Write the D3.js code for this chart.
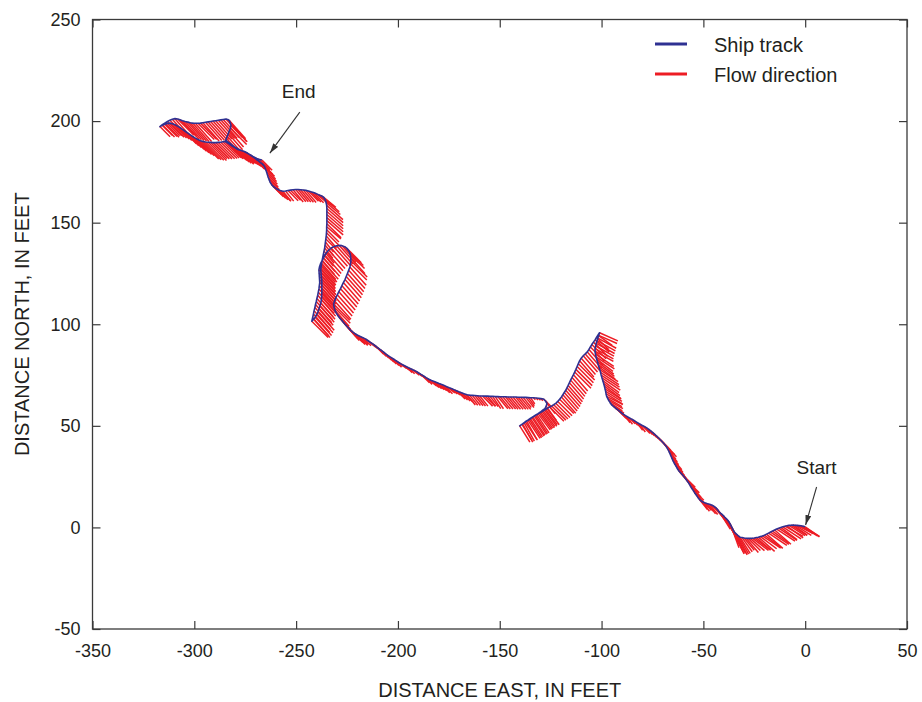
<!DOCTYPE html>
<html>
<head>
<meta charset="utf-8">
<script src="https://cdn.jsdelivr.net/npm/d3@7"></script>
<style>
  html, body { margin: 0; padding: 0; background: #fff; }
  svg { display: block; }
  text { font-family: "Liberation Sans", Arial, sans-serif; fill: #231f20; }
</style>
</head>
<body>
<svg id="chart" width="922" height="702"></svg>
<script>
// Axis ticks (feet)
const xTicks = [-350, -300, -250, -200, -150, -100, -50, 0, 50];
const yTicks = [-50, 0, 50, 100, 150, 200, 250];

// Legend entries
const legendItems = [
  { label: "Ship track", color: "#2e3192" },
  { label: "Flow direction", color: "#ed1c24" }
];

// Annotations: text position, arrow tail and arrow tip (feet east, feet north)
const annotations = [
  { text: "End",   tx: -248.7, ty: 211.5, from: [-248.2, 204.4], to: [-262.9, 184.2] },
  { text: "Start", tx: 5.6,    ty: 26.5,  from: [5.6, 19.9],     to: [0.2, 1.2] }
];

// Ensembles along the ship track, from start to end:
// [east, north, flow east, flow north] in feet
const ensembles = [
  // start, heading west
  [0.0,0.3,7,-5],[-1,0.6,8,-5],[-2,0.8,8,-5],[-3,0.9,7,-4],[-4,1.0,8,-4],[-5,1.1,8,-5],
  [-6,1.2,7,-5],[-7,1.1,8,-5],[-8,1.0,8,-5],[-9,0.8,8,-6],[-10,0.6,9,-5],[-11,0.3,9,-6],
  [-12,0.0,8,-6],[-13,-0.4,9,-6],[-14,-0.8,9,-6],[-15,-1.3,8,-7],[-16,-1.8,8,-6],[-17,-2.3,9,-6],
  [-18,-2.8,9,-6],[-19,-3.3,8,-7],[-20,-3.8,8,-6],[-21,-4.2,9,-6],[-22,-4.5,8,-6],[-23,-4.8,8,-7],
  [-24,-5.0,7,-6],[-25,-5.2,8,-6],[-26,-5.3,8,-6],[-27,-5.4,7,-6],[-28,-5.4,6,-6],[-29,-5.3,6,-7],
  [-30,-5.2,5,-6],[-31,-5,5,-7],
  // turn north
  [-32,-4.8,5,-8],[-32.8,-4.2,5,-9],[-33.5,-3.5,5,-10],[-34.3,-2.8,5,-10],[-35,-2,5,-11],[-35.5,-1,5,-11],
  [-36,0,5,-11],[-36.5,1,4,-11],[-37,2,5,-11],[-37.5,2.8,5,-11],[-38,3.5,6,-11],[-38.8,4.3,6,-11],
  [-39.5,5,6,-10],[-40.2,5.8,6,-10],[-41,6.5,6,-9],[-41.8,7.2,5,-8],[-42.5,8,5,-7],[-43.2,9,5,-7],
  // northwest run
  [-44,9.8,5,-6],[-45,10.5,5,-6],[-46,11,5,-5],[-47,11.4,4,-5],[-48,11.7,4,-5],[-49,12,4,-4],
  [-50,12.4,4,-4],[-51,13,4,-5],[-52,13.8,4,-5],[-52.8,14.9,5,-5],[-53.5,16,5,-5],[-54.3,17.1,5,-6],
  [-55,18.2,5,-6],[-55.8,19.4,6,-6],[-56.5,20.6,5,-6],[-57.2,21.8,6,-7],[-58,23,6,-6],[-59,24.3,6,-7],
  [-60,25.5,6,-7],[-61,26.7,7,-7],[-62,27.8,6,-7],[-62.8,29,6,-7],[-63.5,30.3,5,-6],[-64.3,31.6,5,-6],
  [-65,33,5,-6],[-65.6,34.4,5,-6],[-66.2,35.8,4,-5],[-66.8,37.2,4,-5],[-67.5,38.6,4,-5],[-68.2,39.8,5,-5],
  [-69,40.8,5,-5],[-70,41.9,5,-6],[-71,43,5,-5],[-72,44,5,-5],[-73,45,4,-4],[-74,45.9,4,-4],
  [-75,46.8,4,-4],[-76,47.6,4,-4],[-77,48.4,4,-4],[-78,49.1,4,-4],
  [-79,49.7,4,-4],[-80.2,50.3,4,-4],[-81.5,51,3,-4],[-82.8,51.8,3,-4],[-84,52.6,3,-3],[-85.2,53.3,3,-3],
  [-86.5,54,3,-3],[-87.8,54.8,3,-4],[-89,55.5,3,-4],[-90,56.2,4,-4],[-91,57,4,-4],[-92,57.8,4,-4],
  [-93,58.6,5,-4],[-94,59.4,5,-4],[-95,60.3,6,-4],[-95.8,61.4,6,-4],[-96.5,62.5,7,-4],[-97,63.5,7,-4],
  [-97.5,64.5,8,-4],
  // up to the peak
  [-97.8,65.8,8,-5],[-98,67,8,-5],[-98.3,68.2,8,-5],[-98.6,69.5,8,-6],[-99,70.9,8,-6],[-99.4,72.3,8,-6],
  [-99.8,73.6,9,-6],[-100.2,75,9,-6],[-100.5,76.3,9,-6],[-100.9,77.7,9,-6],[-101.3,79,8,-6],[-101.7,80.3,8,-6],
  [-102,81.5,8,-6],[-102.4,82.8,8,-6],[-102.7,84,9,-6],[-103,85.3,9,-6],[-103.2,86.7,9,-5],[-103.2,88,9,-5],
  [-102.9,89.3,9,-5],[-102.6,90.6,9,-5],[-102.2,91.9,9,-5],[-101.8,93.2,9,-5],[-101.4,94.5,9,-4],[-101,95.8,9,-4],
  // down the west side of the peak
  [-101.8,94.6,7,-5],[-102.5,93.5,6,-6],[-103.2,92.3,7,-6],[-104,91.2,7,-7],[-104.8,90,7,-7],[-105.5,88.8,7,-7],
  [-106.2,87.6,7,-8],[-107,86.4,7,-8],[-108,85.4,7,-8],[-109,84.5,7,-8],[-110,83.3,7,-8],[-110.8,82,7,-8],
  [-111.4,80.6,8,-8],[-112,79.2,8,-8],[-112.6,77.8,8,-8],[-113.2,76.5,8,-8],[-113.8,75.2,7,-8],[-114.5,73.8,7,-8],
  [-115.2,72.5,7,-8],[-115.8,71.2,7,-8],[-116.4,69.9,7,-8],[-117,68.7,7,-8],[-117.6,67.5,7,-8],[-118.3,66.4,7,-8],
  [-119,65.3,7,-8],[-119.7,64.2,7,-8],[-120.6,63.1,7,-7],[-121.5,62,7,-7],[-122.5,61.1,7,-7],[-123.5,60.4,7,-7],
  [-124.5,59.8,7,-7],[-125.5,59.3,7,-7],[-126.8,58.5,6,-8],
  // southwest spur and back
  [-128,57.8,6,-8],[-129.2,57,6,-8],[-130.5,56.3,6,-8],[-131.8,55.5,6,-9],[-133,54.8,6,-9],[-134.2,54,6,-9],
  [-135.5,53.1,6,-9],[-136.8,52.3,5,-9],[-138,51.5,5,-9],[-139.1,50.7,5,-8],[-140.2,50,5,-8],[-138.8,51,5,-9],
  [-137.5,52,6,-9],[-136.2,52.8,6,-9],[-135,53.6,6,-9],[-133.8,54.4,6,-9],[-132.5,55.2,6,-9],[-131.2,56,6,-8],
  [-130,56.8,6,-8],[-128.9,57.7,6,-8],[-127.8,58.5,6,-8],[-127.2,59.7,5,-7],[-126.8,61,4,-5],[-127.5,62.2,3,-3],
  [-128.5,63.2,2,-2],
  // straight westward leg
  [-129.8,63.4,1,-1],[-131,63.6,1,-1],[-132.2,63.7,1,-1],[-133.5,63.8,1,-1],[-134.8,63.8,2,-3],[-136,63.9,3,-4],
  [-137.2,64,4,-5],[-138.5,64,4,-5],[-139.8,64.1,5,-6],[-141,64.1,5,-6],[-142.2,64.2,5,-6],[-143.5,64.2,5,-6],
  [-144.8,64.2,5,-6],[-146,64.2,5,-6],[-147.2,64.3,5,-6],[-148.5,64.3,5,-6],[-149.8,64.3,5,-6],[-151,64.4,5,-6],
  [-152.2,64.4,4,-6],[-153.5,64.5,4,-6],[-154.8,64.5,4,-5],[-156,64.6,4,-5],[-157.2,64.6,5,-5],[-158.5,64.7,5,-5],
  [-159.8,64.7,4,-5],[-161,64.8,4,-5],[-162.2,64.9,4,-5],[-163.5,65,4,-5],[-164.8,65.1,4,-5],[-166,65.3,4,-5],
  // long northwest diagonal
  [-167.2,65.7,4,-4],[-168.5,66.2,4,-4],[-169.8,66.7,4,-4],[-171,67.2,4,-4],[-172.2,67.7,4,-3],[-173.5,68.2,4,-3],
  [-174.8,68.7,4,-3],[-176,69.2,4,-3],[-177.2,69.8,4,-4],[-178.5,70.3,4,-4],[-179.8,70.8,5,-4],[-181,71.3,5,-4],
  [-182.2,71.8,5,-4],[-183.5,72.3,5,-4],[-184.8,72.9,5,-4],[-186,73.6,5,-4],[-187.2,74.4,4,-4],[-188.5,75.2,4,-4],
  [-189.8,76,4,-3],[-191,76.8,4,-3],[-192.2,77.4,4,-3],[-193.5,78,4,-3],[-194.8,78.6,3,-3],[-196,79.2,3,-3],
  [-197.2,79.8,4,-3],[-198.5,80.5,4,-3],[-199.8,81.3,4,-3],[-201,82.1,4,-3],[-202.2,82.9,4,-4],[-203.5,83.7,4,-4],
  [-204.8,84.5,4,-4],[-206,85.4,4,-4],[-207.2,86.4,4,-4],[-208.5,87.4,4,-4],[-209.8,88.3,4,-4],[-211,89.3,4,-4],
  [-212.2,90.2,5,-4],[-213.5,91.1,5,-4],[-214.8,92,5,-4],[-216,92.8,5,-4],[-217.2,93.4,4,-4],[-218.5,94,4,-4],
  [-219.8,94.6,5,-5],[-221,95.3,5,-5],[-222.1,96.1,6,-6],[-223.2,97,6,-6],[-224.6,98.5,7,-7],
  // loop
  [-226,100,7,-8],[-226.9,101.1,7,-8],[-227.8,102.2,7,-8],[-228.7,103.2,7,-8],[-229.5,104.3,7,-8],[-230.3,105.6,7,-8],
  [-231,107,7,-8],[-231.4,108.5,8,-8],[-231.6,110,8,-8],[-231.1,111.5,8,-9],[-230.5,113,8,-9],[-229.8,114.5,8,-9],
  [-229,116,8,-9],[-228.2,117.5,8,-9],[-227.5,119,8,-9],[-226.8,120.5,8,-9],[-226,122,8,-9],[-225.4,123.5,8,-9],
  [-224.8,125,8,-9],[-224.2,126.6,8,-9],[-223.6,128.2,8,-9],[-223.3,129.8,8,-8],[-223.1,131.3,8,-8],[-223.2,132.9,7,-8],
  [-223.4,134.4,7,-7],[-224,135.9,7,-7],[-225,137.3,7,-7],[-226.2,138.2,7,-8],[-227.5,138.7,7,-8],[-228.8,138.8,8,-9],
  [-230.2,138.6,8,-9],[-231.5,138.2,8,-9],[-232.8,137.5,8,-9],[-234,136.5,8,-9],[-235,135.3,8,-9],[-235.9,134,8,-9],
  [-236.6,132.6,8,-9],[-237.3,131.2,8,-9],[-238,129.8,8,-9],[-238.5,128.3,8,-9],[-238.8,126.8,8,-9],[-238.7,125.2,8,-9],
  [-238.6,123.6,8,-9],[-238.5,122,8,-9],[-238.4,120.5,8,-9],[-238.6,119,8,-9],[-238.8,117.4,8,-9],[-239.1,115.8,8,-9],
  [-239.4,114.3,8,-9],[-239.8,112.7,8,-9],[-240.1,111.2,8,-9],[-240.5,109.7,8,-9],[-240.8,108.2,8,-9],[-241.2,106.6,8,-9],
  [-241.5,105,8,-9],[-241.9,103.2,8,-9],[-242.3,101.5,8,-8],[-241.4,102.5,8,-9],[-240.6,103.5,8,-9],[-239.9,104.8,8,-9],
  [-239.3,106,8,-9],[-238.8,107.5,7,-8],[-238.3,109,7,-8],[-237.9,110.5,7,-8],[-237.6,112,7,-8],[-237.5,113.5,7,-8],
  [-237.4,115,7,-8],[-237.4,116.5,7,-8],[-237.4,118,7,-8],[-237.4,119.5,7,-8],[-237.4,121,7,-8],[-237.5,122.5,7,-8],
  [-237.7,124,7,-8],[-237.8,125.5,7,-8],[-237.9,127,7,-8],[-237.7,128.5,7,-8],[-237.5,130,7,-8],[-237.2,131.5,6,-7],
  [-236.9,133,6,-7],[-236.6,134.5,5,-6],[-236.3,136,5,-6],[-236,137.5,4,-5],[-235.8,139,4,-5],[-235.6,140.5,4,-5],
  [-235.4,142,5,-5],[-235.2,143.5,5,-6],[-235.1,145,6,-6],[-235,146.5,6,-6],[-235,148,7,-6],[-234.9,149.5,7,-7],
  [-234.9,151,8,-7],[-234.9,152.5,8,-7],[-234.9,154,8,-7],[-234.9,155.5,8,-7],[-234.9,157,8,-7],[-235,158.5,8,-7],
  [-235.3,160,7,-6],[-235.8,161.4,7,-6],[-236.5,162.5,6,-5],[-237.7,163.3,6,-5],
  // west toward the end
  [-239,163.8,6,-5],[-240.2,164.3,6,-5],[-241.5,164.8,5,-5],[-242.8,165.2,5,-5],[-244,165.6,5,-5],[-245.2,165.9,5,-6],
  [-246.5,166.1,5,-6],[-247.8,166.2,5,-6],[-249,166.3,5,-6],[-250.2,166.3,5,-6],[-251.5,166.2,5,-6],[-252.8,166,5,-5],
  [-254,165.8,5,-5],[-255.2,165.6,4,-5],[-256.5,165.5,4,-5],[-257.8,165.8,5,-5],[-259,166.3,5,-5],[-260.1,167,5,-5],
  [-261.2,167.8,5,-5],[-262.1,168.8,5,-5],[-262.8,170,5,-5],[-263.3,171.3,5,-5],[-263.8,172.6,5,-5],[-264.2,173.9,5,-5],
  [-264.6,175.2,5,-5],[-265.1,176.5,5,-5],[-265.6,177.8,5,-5],[-266.5,178.8,5,-5],[-267.5,179.6,5,-5],[-268.5,180.4,5,-5],
  [-269.5,181.1,5,-5],[-270.6,182,6,-6],[-271.8,182.8,6,-6],[-273,183.6,6,-6],[-274.2,184.4,6,-6],[-275.4,185,6,-6],
  [-276.6,185.4,6,-6],[-277.8,185.8,7,-7],[-279,186.2,7,-7],[-280.1,186.9,7,-7],[-281.2,187.6,7,-7],[-282.2,188.3,7,-7],
  [-283.2,189,7,-7],[-284.1,189.5,8,-8],[-285,190,8,-8],
  [-286,189.8,8,-8],[-287,189.6,8,-8],[-288.2,189.5,8,-8],[-289.5,189.4,8,-8],[-290.8,189.4,8,-8],[-292,189.5,8,-8],
  [-293.2,189.6,9,-9],[-294.5,189.7,9,-9],[-295.8,190,9,-9],[-297,190.3,9,-9],[-298.2,190.9,8,-8],[-299.5,191.6,8,-8],
  [-300.8,192.4,8,-8],[-302,193.2,8,-8],[-303.2,194.1,8,-8],[-304.5,195,8,-8],[-305.8,195.9,8,-8],[-307,196.8,8,-8],
  [-308.2,197.5,7,-7],[-309.5,198.2,7,-7],[-310.8,198.7,7,-7],[-312,199,7,-7],[-313.2,198.8,6,-6],[-314.5,198.4,6,-6],
  [-315.7,197.9,5,-5],[-316.9,197.3,5,-5],
  // back east along the northern edge
  [-315.7,198.2,6,-6],[-314.5,199,7,-7],[-313.2,199.8,7,-7],[-312,200.4,7,-7],[-310.8,200.9,7,-8],[-309.5,201.2,7,-8],
  [-308.2,201,8,-8],[-307,200.6,8,-8],[-305.8,200.2,8,-9],[-304.5,199.8,8,-9],[-303.2,199.5,8,-9],[-302,199.2,8,-9],
  [-300.8,199,8,-9],[-299.5,198.9,8,-9],[-298.2,198.9,8,-8],[-297,199,8,-8],[-295.8,199.2,8,-9],[-294.5,199.4,8,-9],
  [-293.2,199.6,8,-9],[-292,199.8,8,-9],[-290.8,200,8,-9],[-289.5,200.2,8,-9],[-288.2,200.4,8,-9],[-287,200.6,8,-9],
  [-285.8,200.8,8,-9],[-284.5,201,8,-9],[-283.6,200.8,8,-9],[-282.8,200.3,8,-9],[-282.3,199,8,-9],[-282,197.8,8,-8],
  [-282.3,196.5,8,-8],[-282.8,195.2,7,-8],[-283.3,193.9,7,-8],[-283.8,192.6,6,-7],[-284.2,191.6,6,-7],[-284.6,190.6,5,-6],
  // final leg
  [-283.5,189.8,6,-6],[-282.5,189,6,-6],[-281.5,188.2,6,-6],[-280.5,187.4,6,-6],[-279.4,186.8,6,-6],[-278.3,186.2,6,-6],
  [-277.2,185.7,6,-6],[-276,185.2,6,-6],[-274.8,184.6,6,-6],[-273.6,184,6,-6],[-272.4,183.3,7,-7],[-271.2,182.6,7,-7],
  [-270.1,182,6,-6],[-269,181.4,6,-6],[-267.9,181.1,5,-5],[-266.8,180.8,5,-5]
];

const svg = d3.select("#chart");
const plot = { left: 92.5, right: 907, top: 19.5, bottom: 629 };

const x = d3.scaleLinear().domain([-350, 50]).range([plot.left, plot.right]);
const y = d3.scaleLinear().domain([-50, 250]).range([plot.bottom, plot.top]);

const axisColor = "#3a3a3a";
const fmt = d => String(d); // hyphen-minus, as printed on the axes

// Axes with inward ticks on all four sides
const gBottom = svg.append("g").attr("transform", `translate(0,${plot.bottom})`)
  .call(d3.axisBottom(x).tickValues(xTicks).tickSize(-8).tickSizeOuter(0).tickPadding(15).tickFormat(fmt));
const gLeft = svg.append("g").attr("transform", `translate(${plot.left},0)`)
  .call(d3.axisLeft(y).tickValues(yTicks).tickSize(-8).tickSizeOuter(0).tickPadding(12).tickFormat(fmt));
const gTop = svg.append("g").attr("transform", `translate(0,${plot.top})`)
  .call(d3.axisTop(x).tickValues(xTicks).tickSize(-8).tickSizeOuter(0).tickFormat(""));
const gRight = svg.append("g").attr("transform", `translate(${plot.right},0)`)
  .call(d3.axisRight(y).tickValues(yTicks).tickSize(-8).tickSizeOuter(0).tickFormat(""));

[gBottom, gLeft, gTop, gRight].forEach(g => {
  g.select(".domain").remove();
  g.selectAll(".tick line").attr("stroke", axisColor).attr("stroke-width", 1.2);
  g.selectAll(".tick text").attr("fill", "#231f20").style("font-size", "18px")
    .style("font-family", '"Liberation Sans", Arial, sans-serif');
});

// Frame
svg.append("rect")
  .attr("x", plot.left).attr("y", plot.top)
  .attr("width", plot.right - plot.left).attr("height", plot.bottom - plot.top)
  .attr("fill", "none").attr("stroke", axisColor).attr("stroke-width", 1.3);

// Axis titles
svg.append("text")
  .attr("x", (plot.left + plot.right) / 2).attr("y", 697)
  .attr("text-anchor", "middle").style("font-size", "20px")
  .text("DISTANCE EAST, IN FEET");
svg.append("text")
  .attr("transform", `translate(29,${(plot.top + plot.bottom) / 2}) rotate(-90)`)
  .attr("text-anchor", "middle").style("font-size", "20px")
  .text("DISTANCE NORTH, IN FEET");

// Flow-direction vectors, drawn from each ensemble position
svg.append("g").attr("class", "flow")
  .selectAll("line").data(ensembles).join("line")
  .attr("x1", d => x(d[0])).attr("y1", d => y(d[1]))
  .attr("x2", d => x(d[0] + d[2])).attr("y2", d => y(d[1] + d[3]))
  .attr("stroke", "#ed1c24").attr("stroke-width", 1.5);

// Ship track
svg.append("path")
  .datum(ensembles)
  .attr("d", d3.line().x(d => x(d[0])).y(d => y(d[1])))
  .attr("fill", "none").attr("stroke", "#2e3192").attr("stroke-width", 1.6)
  .attr("stroke-linejoin", "round");

// Legend
const legend = svg.append("g").attr("transform", "translate(655,45)");
legendItems.forEach((item, i) => {
  const row = legend.append("g").attr("transform", `translate(0,${i * 30})`);
  row.append("line").attr("x1", 0).attr("x2", 32).attr("y1", -1).attr("y2", -1)
    .attr("stroke", item.color).attr("stroke-width", 3);
  row.append("text").attr("x", 59).attr("y", 0).attr("dy", "0.35em")
    .style("font-size", "20px").text(item.label);
});

// Arrow marker
svg.append("defs").append("marker")
  .attr("id", "arrowhead").attr("viewBox", "0 0 10 6")
  .attr("refX", 10).attr("refY", 3)
  .attr("markerWidth", 10).attr("markerHeight", 6)
  .attr("markerUnits", "userSpaceOnUse").attr("orient", "auto")
  .append("path").attr("d", "M0,0 L10,3 L0,6 Z").attr("fill", "#333");

// Start / End annotations
const ann = svg.append("g").attr("class", "annotations");
annotations.forEach(a => {
  ann.append("text").attr("x", x(a.tx)).attr("y", y(a.ty))
    .attr("text-anchor", "middle").style("font-size", "19px").text(a.text);
  ann.append("line")
    .attr("x1", x(a.from[0])).attr("y1", y(a.from[1]))
    .attr("x2", x(a.to[0])).attr("y2", y(a.to[1]))
    .attr("stroke", "#333").attr("stroke-width", 1.1)
    .attr("marker-end", "url(#arrowhead)");
});
</script>
</body>
</html>
